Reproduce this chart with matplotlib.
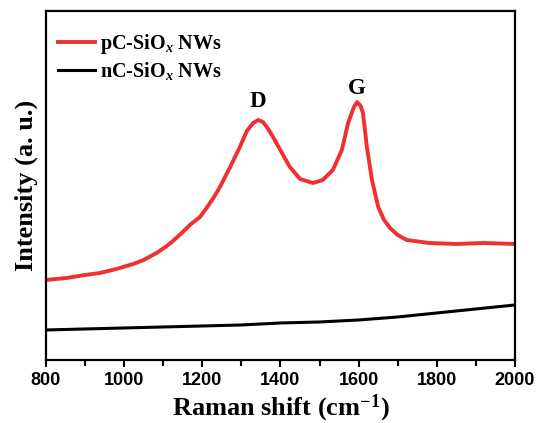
import matplotlib
matplotlib.use("Agg")
import matplotlib.pyplot as plt
from matplotlib.ticker import MultipleLocator

# values (arbitrary intensity units)
wn_red = [800, 853, 900, 938, 980, 1023, 1050, 1083, 1109, 1125, 1150, 1168, 1194,
          1211, 1230, 1245, 1270, 1296, 1314, 1330, 1343, 1355, 1365, 1381, 1398,
          1424, 1450, 1483, 1508, 1534, 1557, 1573, 1588, 1596, 1605, 1611, 1621,
          1634, 1650, 1665, 1680, 1700, 1723, 1780, 1850, 1920, 2000]
int_red = [80, 82, 85, 87, 91, 96, 100, 107, 114, 119, 128, 135, 143,
           152, 163, 173, 192, 213, 229, 237, 240, 238, 233, 223, 211,
           193, 181, 177, 180, 190, 210, 237, 253, 258, 254, 247, 213,
           180, 153, 140, 132, 125, 120, 117, 116, 117, 116]

wn_black = [800, 900, 1000, 1100, 1200, 1300, 1400, 1500, 1600, 1700, 1800, 1900, 2000]
int_black = [30, 31, 32, 33, 34, 35, 37, 38, 40, 43, 47, 51, 55]

legend_labels = ["pC-SiO$_x$ NWs", "nC-SiO$_x$ NWs"]

plt.rcParams["mathtext.fontset"] = "custom"
plt.rcParams["mathtext.rm"] = "Liberation Serif:bold"
plt.rcParams["mathtext.it"] = "Liberation Serif:italic:bold"
plt.rcParams["mathtext.bf"] = "Liberation Serif:bold"

fig = plt.figure(figsize=(5.39, 4.23), dpi=100)
ax = fig.add_axes([0.0853, 0.149, 0.8702, 0.825])

ax.plot(wn_red, int_red, color="#f03030", lw=2.8, label=legend_labels[0])
ax.plot(wn_black, int_black, color="black", lw=2.2, label=legend_labels[1])

ax.set_xlim(800, 2000)
ax.set_ylim(0, 349)
ax.xaxis.set_major_locator(MultipleLocator(200))
ax.xaxis.set_minor_locator(MultipleLocator(100))
ax.set_yticks([])
ax.tick_params(axis="x", which="major", direction="out", length=5, width=1.5)
ax.tick_params(axis="x", which="minor", direction="out", length=4, width=1.5)
for s in ax.spines.values():
    s.set_linewidth(1.6)
for lab in ax.get_xticklabels():
    lab.set_fontfamily("Liberation Sans")
    lab.set_fontweight("bold")
    lab.set_fontsize(13)

ax.set_xlabel("Raman shift (cm$^{-1}$)", fontfamily="Liberation Serif",
              fontweight="bold", fontsize=19, labelpad=3)
ax.set_ylabel("Intensity (a. u.)", fontfamily="Liberation Serif",
              fontweight="bold", fontsize=19, labelpad=6)

ax.text(1343, 253, "D", ha="center", va="baseline", fontfamily="Liberation Serif",
        fontweight="bold", fontsize=16.5)
ax.text(1596, 266, "G", ha="center", va="baseline", fontfamily="Liberation Serif",
        fontweight="bold", fontsize=16.5)

leg = ax.legend(loc="upper left", bbox_to_anchor=(0.025, 0.94), frameon=False,
                handlelength=1.85,
                prop={"family": "Liberation Serif", "weight": "bold", "size": 14.5},
                borderaxespad=0, labelspacing=0.2, handletextpad=0.25,
                borderpad=0)

fig.savefig("out.png", dpi=100)
